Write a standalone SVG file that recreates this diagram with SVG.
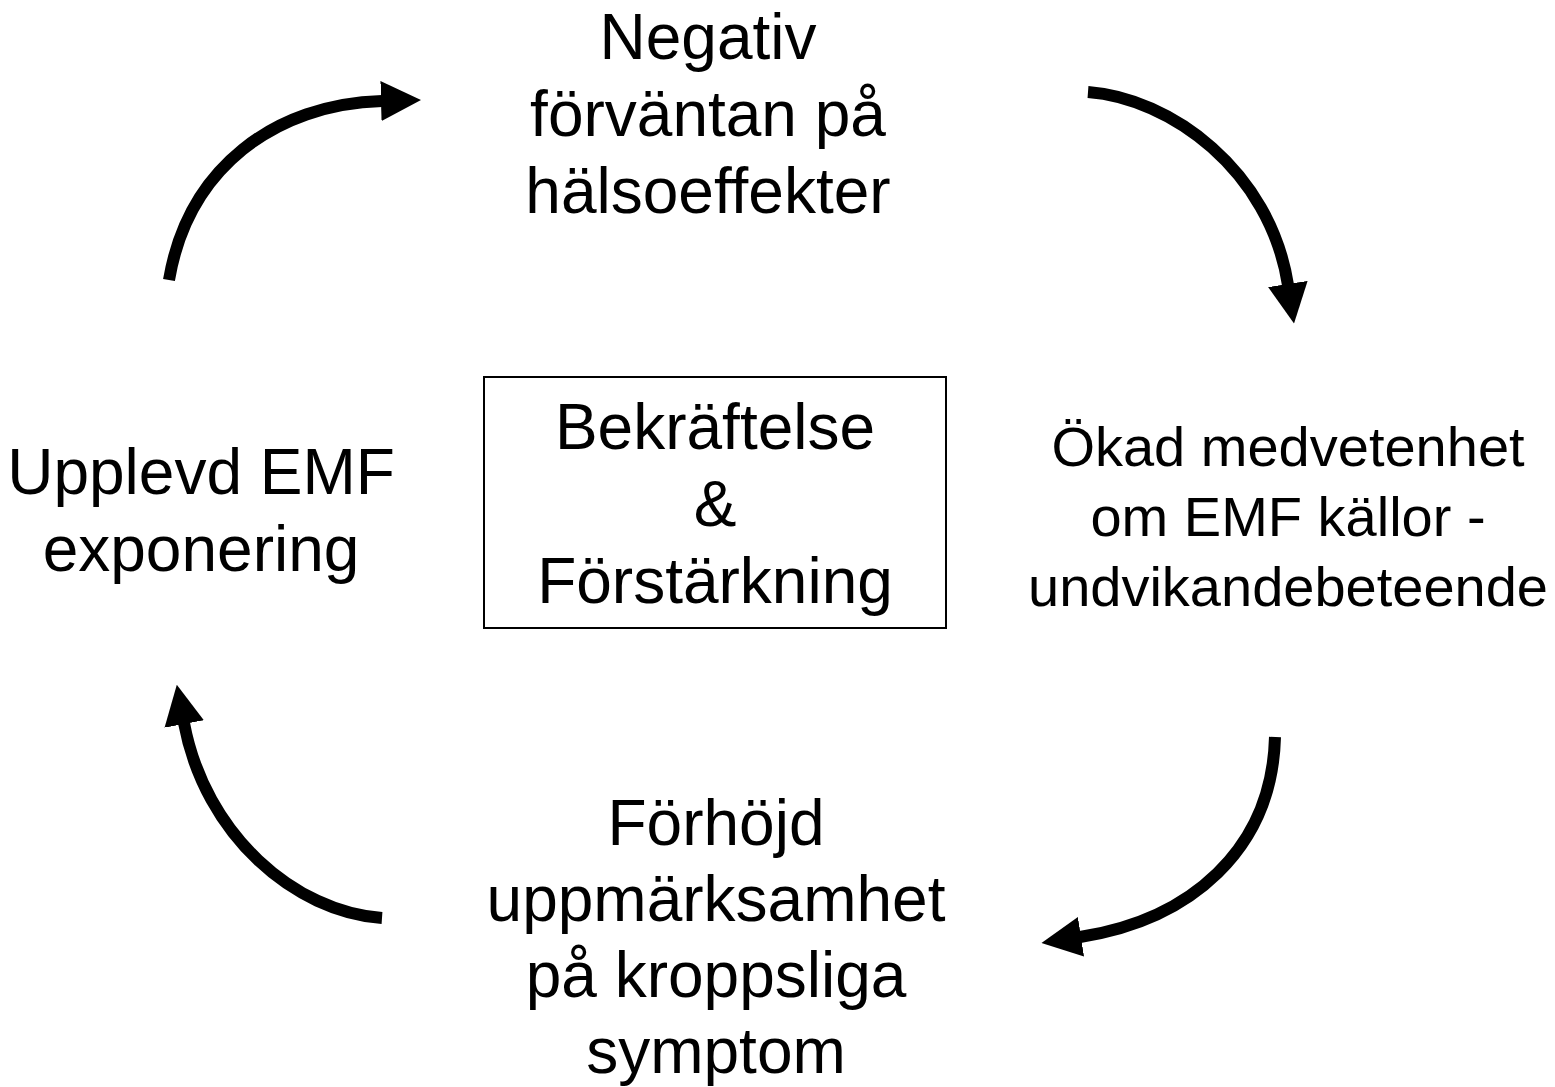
<svg xmlns="http://www.w3.org/2000/svg" width="1555" height="1087" viewBox="0 0 1555 1087">
<style>
text{font-family:"Liberation Sans",Arial,sans-serif;fill:#000;text-anchor:middle}
.big{font-size:64px}
.mid{font-size:56px}
.arc{fill:none;stroke:#000;stroke-width:12;marker-end:url(#head)}
</style>
<defs>
<marker id="head" markerUnits="userSpaceOnUse" markerWidth="40" markerHeight="40" viewBox="0 0 40 40" refX="1" refY="20" orient="auto">
<path d="M0,0 L40,20 L0,40 Z" fill="#000"/>
</marker>
</defs>
<rect width="1555" height="1087" fill="#fff"/>
<g id="connectors">
<path class="arc" d="M169,280 C188,168 275,104 382,101"/>
<path class="arc" d="M1088,92 C1170,98 1270,170 1288,285"/>
<path class="arc" d="M1275,737 C1272,850 1190,920 1080,937"/>
<path class="arc" d="M382,918 C295,912 205,835 184,723"/>
</g>
<g id="node-negativ">
<text class="big" x="708" y="59">Negativ</text>
<text class="big" x="708" y="136">förväntan på</text>
<text class="big" x="708" y="213">hälsoeffekter</text>
</g>
<g id="node-okad">
<text class="mid" x="1288" y="466">Ökad medvetenhet</text>
<text class="mid" x="1288" y="536">om EMF källor -</text>
<text class="mid" x="1288" y="606">undvikandebeteende</text>
</g>
<g id="node-forhojd">
<text class="big" x="716" y="845">Förhöjd</text>
<text class="big" x="716" y="921">uppmärksamhet</text>
<text class="big" x="716" y="997">på kroppsliga</text>
<text class="big" x="716" y="1073">symptom</text>
</g>
<g id="node-upplevd">
<text class="big" x="201" y="494">Upplevd EMF</text>
<text class="big" x="201" y="571">exponering</text>
</g>
<g id="node-center">
<rect x="484" y="377" width="462" height="251" fill="none" stroke="#000" stroke-width="2"/>
<text class="big" x="715" y="449">Bekräftelse</text>
<text class="big" x="715" y="526">&amp;</text>
<text class="big" x="715" y="603">Förstärkning</text>
</g>
</svg>
